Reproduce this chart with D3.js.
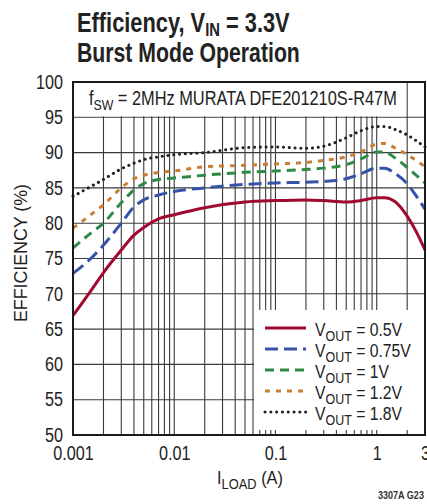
<!DOCTYPE html>
<html>
<head>
<meta charset="utf-8">
<script src="https://cdn.jsdelivr.net/npm/d3@7"></script>
<style>
  body { margin: 0; background: #fff; }
  svg { display: block; font-family: "Liberation Sans", Arial, sans-serif; }
</style>
</head>
<body>
<svg id="chart" width="427" height="504"></svg>
<script>
// load current (A), shared by all curves
var loadA = [0.001, 0.0015, 0.002, 0.003, 0.004, 0.005, 0.007, 0.01, 0.02, 0.05, 0.1, 0.2, 0.3, 0.5, 0.7, 1, 1.2, 1.5, 2, 2.5, 3];

// efficiency (%) per output voltage
var eff05  = [66.9, 70.4, 73.0, 76.2, 78.3, 79.4, 80.6, 81.2, 82.2, 83.0, 83.2, 83.3, 83.2, 83.0, 83.2, 83.6, 83.6, 83.1, 81.0, 78.6, 76.2];
var eff075 = [72.9, 75.0, 76.9, 80.0, 82.3, 83.3, 84.0, 84.5, 85.0, 85.5, 85.7, 85.8, 85.9, 86.3, 87.0, 87.8, 87.8, 87.1, 85.6, 83.7, 82.0];
var eff1   = [76.5, 78.6, 80.0, 82.9, 84.7, 85.6, 86.2, 86.4, 86.8, 87.2, 87.4, 87.6, 87.8, 88.3, 89.1, 90.1, 90.1, 89.3, 87.9, 86.7, 85.7];
var eff12  = [79.3, 81.2, 82.6, 85.0, 86.3, 86.8, 87.2, 87.4, 88.0, 88.2, 88.4, 88.6, 88.9, 89.4, 90.1, 91.2, 91.3, 90.7, 89.7, 88.8, 88.0];
var eff18  = [83.8, 85.2, 86.2, 87.7, 88.5, 89.0, 89.4, 89.7, 90.0, 90.7, 90.8, 90.6, 90.9, 92.1, 93.1, 93.7, 93.7, 93.3, 92.5, 91.6, 90.8];

var seriesNames = ["0.5V", "0.75V", "1V", "1.2V", "1.8V"];
var seriesData = [eff05, eff075, eff1, eff12, eff18];

var xTickValues = [0.001, 0.01, 0.1, 1, 3];
var xTickLabels = ["0.001", "0.01", "0.1", "1", "3"];
var yTickValues = [50, 55, 60, 65, 70, 75, 80, 85, 90, 95, 100];

// styles for each curve
var colors = ["#a00a30", "#3653a8", "#2f8a48", "#c97d35", "#222222"];
var dashes = [null, "13,6", "9,6", "5,6", "0.1,5.7"];
var widths = [3, 3, 3, 3, 3];

var margin = {left: 73, right: 2, top: 82, bottom: 69};
var W = 427, H = 504;
var NARROW = 0.83; // horizontal squeeze to mimic a condensed face

var svg = d3.select("#chart");

// squeeze a text horizontally around x = ax, either by factor or to a target width
function squeeze(sel, ax, s) {
  sel.attr("transform", "translate(" + ax + ",0) scale(" + s + ",1) translate(" + (-ax) + ",0)");
}
function fitWidth(sel, ax, w) {
  var bw = sel.node().getBBox().width;
  squeeze(sel, ax, w / bw);
}

var x = d3.scaleLog().domain([0.001, 3]).range([margin.left, W - margin.right]);
var y = d3.scaleLinear().domain([50, 100]).range([H - margin.bottom, margin.top]);

// every decade subdivision for the grid
var gridX = [];
[0.001, 0.01, 0.1, 1].forEach(function(d) {
  for (var k = 1; k < 10; k++) { var v = d * k; if (v <= 3.0001) gridX.push(v); }
});
gridX.push(3);

var grid = svg.append("g").attr("class", "grid");
grid.selectAll("line.v").data(gridX).enter().append("line").attr("class", "v")
    .attr("x1", function(d) { return x(d); }).attr("x2", function(d) { return x(d); })
    .attr("y1", y(50)).attr("y2", y(100))
    .attr("stroke", "#3a3a3a").attr("stroke-width", 1.1);
grid.selectAll("line.h").data(yTickValues).enter().append("line").attr("class", "h")
    .attr("x1", x(0.001)).attr("x2", x(3))
    .attr("y1", function(d) { return y(d); }).attr("y2", function(d) { return y(d); })
    .attr("stroke", "#3a3a3a").attr("stroke-width", 1.1);

// white box behind the note, grid only resumes at 95%
svg.append("rect").attr("x", x(0.001) + 1).attr("y", y(100) + 1)
   .attr("width", x(2) - x(0.001) - 2).attr("height", y(95) - y(100) - 2).attr("fill", "#fff");

var note = svg.append("text").attr("x", 89).attr("y", 105).attr("font-size", 20).attr("fill", "#222");
note.append("tspan").text("f");
note.append("tspan").attr("font-size", 15).attr("dy", 5).text("SW");
note.append("tspan").attr("dy", -5).text(" = 2MHz MURATA DFE201210S-R47M");
fitWidth(note, 89, 308);

// curves
var line = d3.line()
    .x(function(d, i) { return x(loadA[i]); })
    .y(function(d) { return y(d); })
    .curve(d3.curveMonotoneX);

svg.append("g").attr("class", "curves").selectAll("path").data(seriesData).enter().append("path")
    .attr("d", line)
    .attr("fill", "none")
    .attr("stroke", function(d, i) { return colors[i]; })
    .attr("stroke-width", function(d, i) { return widths[i]; })
    .attr("stroke-dasharray", function(d, i) { return dashes[i]; })
    .attr("stroke-linecap", function(d, i) { return i == 4 ? "round" : "butt"; });

// legend box
var lg = svg.append("g").attr("class", "legend");
lg.append("rect").attr("x", 254).attr("y", 310).attr("width", x(3) - 254).attr("height", y(50) - 310).attr("fill", "#fff");

// short inward ticks on the bottom edge inside the legend box
var minorIn = gridX.filter(function(d) { return x(d) > 256 && x(d) < x(3) - 2; });
lg.selectAll("line.tk").data(minorIn).enter().append("line").attr("class", "tk")
    .attr("x1", function(d) { return x(d); }).attr("x2", function(d) { return x(d); })
    .attr("y1", y(50)).attr("y2", y(50) - 5)
    .attr("stroke", "#3a3a3a").attr("stroke-width", 1.1);

var rows = lg.selectAll("g.row").data(seriesNames).enter().append("g").attr("class", "row")
    .attr("transform", function(d, i) { return "translate(0," + (328 + i * 21) + ")"; });
rows.append("line").attr("x1", 265).attr("x2", 306).attr("y1", 0).attr("y2", 0)
    .attr("stroke", function(d, i) { return colors[i]; })
    .attr("stroke-width", function(d, i) { return widths[i]; })
    .attr("stroke-dasharray", function(d, i) { return dashes[i]; })
    .attr("stroke-linecap", function(d, i) { return i == 4 ? "round" : "butt"; });
var lt = rows.append("text").attr("x", 315).attr("y", 8).attr("font-size", 19).attr("fill", "#222");
lt.append("tspan").text("V");
lt.append("tspan").attr("font-size", 15).attr("dy", 5).text("OUT");
lt.append("tspan").attr("dy", -5).text(function(d) { return " = " + d; });
lt.each(function() { squeeze(d3.select(this), 315, NARROW); });

// frame
svg.append("rect").attr("x", x(0.001)).attr("y", y(100)).attr("width", x(3) - x(0.001)).attr("height", y(50) - y(100))
   .attr("fill", "none").attr("stroke", "#1a1a1a").attr("stroke-width", 2);

// axes
var yAxis = d3.axisLeft(y).tickValues(yTickValues).tickSize(0).tickPadding(10);
var ga = svg.append("g").attr("transform", "translate(" + x(0.001) + ",0)").call(yAxis);
ga.attr("font-family", null).attr("font-size", null);
ga.select(".domain").remove();
ga.selectAll("text").attr("font-size", 19.5).attr("fill", "#222")
  .each(function() { squeeze(d3.select(this), -10, NARROW); });

var xAxis = d3.axisBottom(x).tickValues(xTickValues).tickFormat(function(d, i) { return xTickLabels[i]; }).tickSize(0).tickPadding(11);
var gx = svg.append("g").attr("transform", "translate(0," + y(50) + ")").call(xAxis);
gx.attr("font-family", null).attr("font-size", null);
gx.select(".domain").remove();
gx.selectAll("text").attr("font-size", 19.5).attr("fill", "#222")
  .each(function() { squeeze(d3.select(this), 0, NARROW); });

// axis titles
var xt = svg.append("text").attr("x", 217).attr("y", 484).attr("font-size", 19).attr("fill", "#222");
xt.append("tspan").text("I");
xt.append("tspan").attr("font-size", 15).attr("dy", 5).text("LOAD");
xt.append("tspan").attr("dy", -5).text(" (A)");
fitWidth(xt, 217, 66);

var yt = svg.append("g").attr("transform", "translate(27,253) rotate(-90)");
var ytt = yt.append("text").attr("x", -69).attr("y", 0).attr("font-size", 18.5).attr("fill", "#222").text("EFFICIENCY (%)");
fitWidth(ytt, -69, 138);

// title
var t1 = svg.append("text").attr("x", 77).attr("y", 32).attr("font-size", 28).attr("font-weight", "bold").attr("fill", "#222");
t1.append("tspan").text("Efficiency, V");
t1.append("tspan").attr("font-size", 19).attr("dy", 4).text("IN");
t1.append("tspan").attr("dy", -4).text(" = 3.3V");
fitWidth(t1, 77, 213);
var t2 = svg.append("text").attr("x", 77).attr("y", 62).attr("font-size", 28).attr("font-weight", "bold").attr("fill", "#222")
   .text("Burst Mode Operation");
fitWidth(t2, 77, 223);

var ft = svg.append("text").attr("x", 378).attr("y", 499).attr("font-size", 11).attr("font-weight", "bold")
   .attr("fill", "#333").text("3307A G23");
fitWidth(ft, 378, 46);
</script>
</body>
</html>
